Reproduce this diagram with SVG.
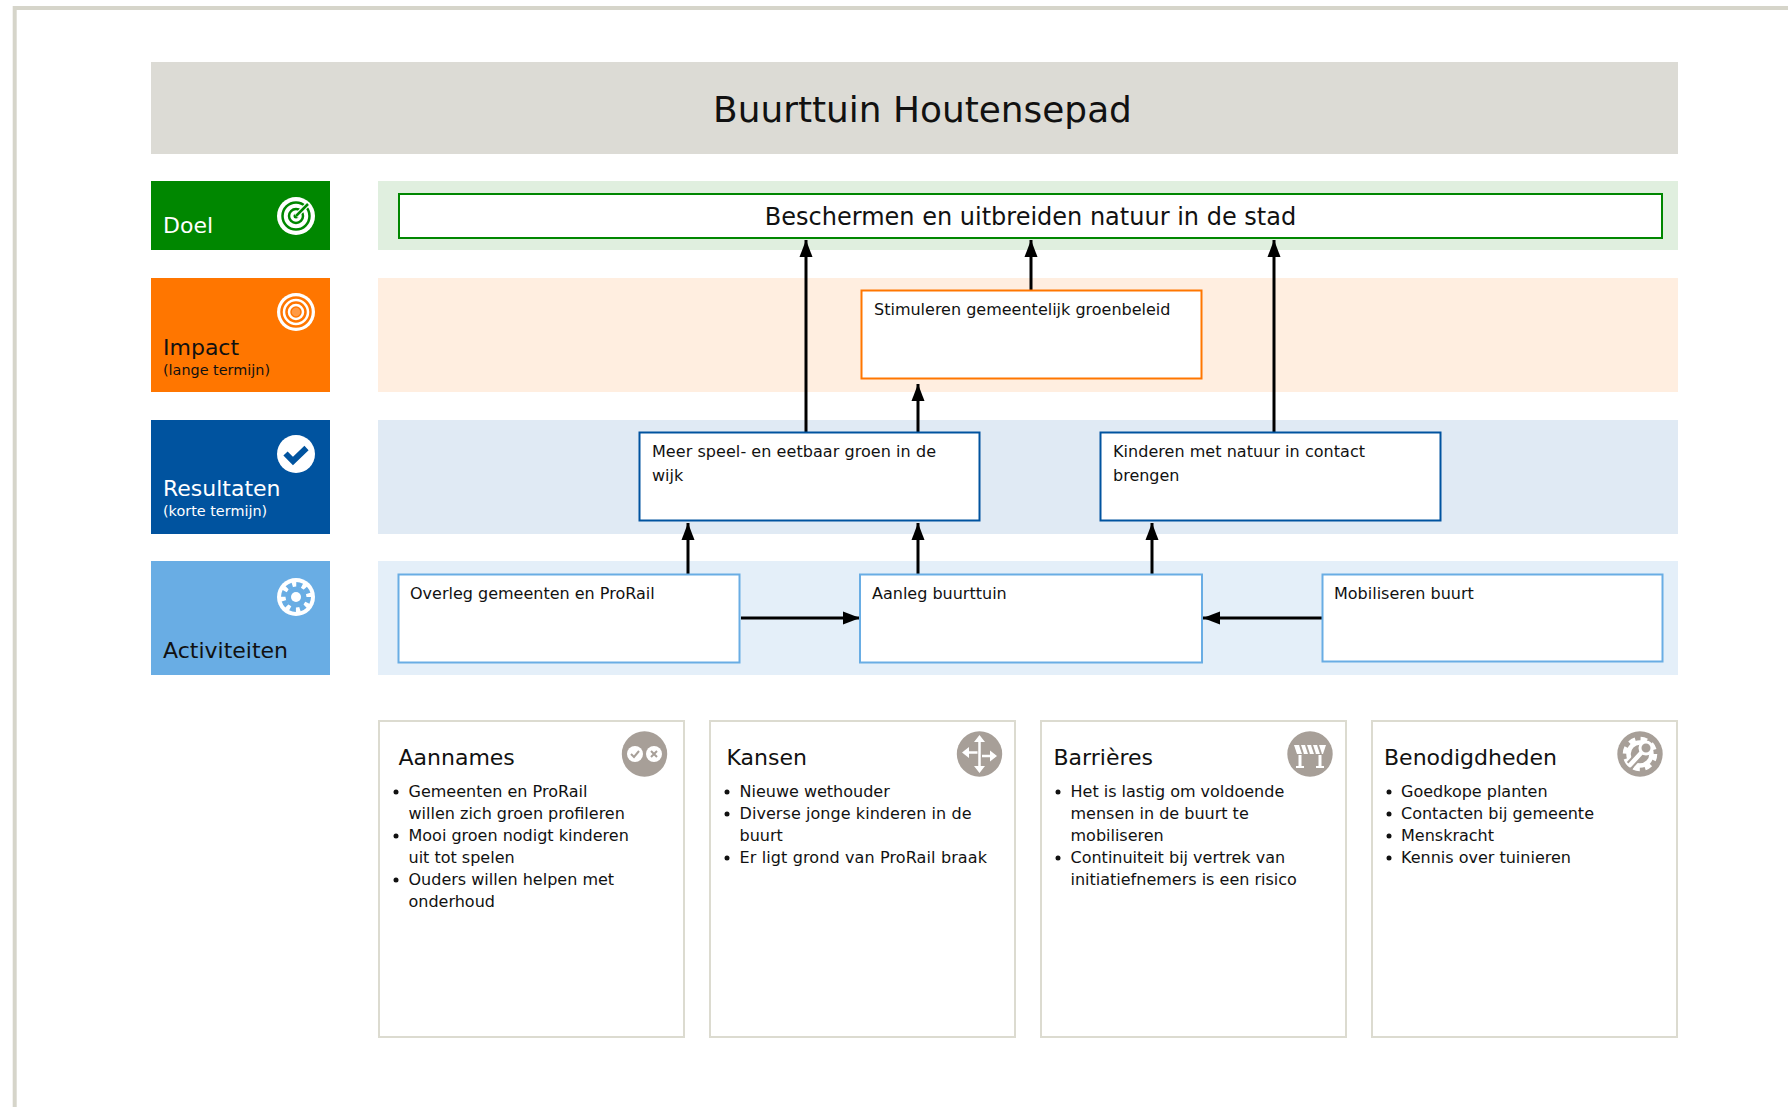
<svg xmlns="http://www.w3.org/2000/svg" width="1788" height="1107" viewBox="0 0 1788 1107">
<style>
text{font-family:"DejaVu Sans","Liberation Sans",sans-serif;fill:#111}
.hd{font-size:22px}.sub{font-size:14.4px}.bx{font-size:16px}.cd{font-size:22px}.li{font-size:16px}
.w{fill:#fff}.box{fill:#fff;stroke-width:2px}.card{fill:#fff;stroke:#dcdbd0;stroke-width:2px}
.arr{fill:none;stroke:#000;stroke-width:3px;marker-end:url(#ah)}
</style>
<defs><marker id="ah" markerUnits="userSpaceOnUse" markerWidth="18" markerHeight="14" refX="17" refY="7" orient="auto"><path d="M0 0.500L17 7L0 13.500Z" fill="#000"/></marker></defs>
<rect width="1788" height="1107" fill="#fff"/>
<path d="M14.7 1107V8H1788" fill="none" stroke="#d6d5ca" stroke-width="4"/>
<g id="title"><rect x="151" y="62" width="1527" height="92" fill="#dcdbd5"/><text x="922.500" y="122" text-anchor="middle" style="font-size:35.900px">Buurttuin Houtensepad</text></g>
<g id="bands"><rect x="378" y="181" width="1300" height="69" fill="#e0efdf"/><rect x="378" y="278" width="1300" height="114" fill="#ffeee0"/><rect x="378" y="420" width="1300" height="114" fill="#e0eaf4"/><rect x="378" y="561" width="1300" height="114" fill="#e4eff9"/></g>
<g id="lab-doel"><rect x="151" y="181" width="179" height="69" fill="#008700"/><text class="hd w" x="163" y="233">Doel</text><circle cx="296" cy="216" r="19" fill="#fff"/><circle cx="296" cy="216" r="13.500" fill="none" stroke="#008700" stroke-width="2.500"/><circle cx="296" cy="216" r="7" fill="none" stroke="#008700" stroke-width="2.500"/><circle cx="296" cy="216" r="2.500" fill="#008700"/><path d="M296 216L308 204" stroke="#fff" stroke-width="5"/><path d="M296 216L308 204" stroke="#008700" stroke-width="2.500"/></g>
<g id="lab-impact"><rect x="151" y="278" width="179" height="114" fill="#ff7600"/><text class="hd" x="163" y="354.500">Impact</text><text class="sub" x="163" y="375">(lange termijn)</text><circle cx="296" cy="312" r="19" fill="#fff"/><circle cx="296" cy="312" r="14.500" fill="none" stroke="#ff7600" stroke-width="2.500"/><circle cx="296" cy="312" r="9.500" fill="none" stroke="#ff7600" stroke-width="2.500"/><circle cx="296" cy="312" r="5" fill="#ff9a45" stroke="#ff7600" stroke-width="1.500"/></g>
<g id="lab-res"><rect x="151" y="420" width="179" height="114" fill="#00539f"/><text class="hd w" x="163" y="496">Resultaten</text><text class="sub w" x="163" y="516">(korte termijn)</text><circle cx="296" cy="454" r="19" fill="#fff"/><path d="M285.500 453.500L293 461L306.500 448" fill="none" stroke="#00539f" stroke-width="6"/></g>
<g id="lab-act"><rect x="151" y="561" width="179" height="114" fill="#69ade4"/><text class="hd" x="163" y="658">Activiteiten</text><circle cx="296" cy="597" r="19" fill="#fff"/><circle cx="296" cy="597" r="10.500" fill="#69ade4"/><circle cx="296" cy="597" r="12.500" fill="none" stroke="#69ade4" stroke-width="5" stroke-dasharray="5.800 4"/><circle cx="296" cy="597" r="5" fill="#fff"/></g>
<g id="connectors">
<path class="arr" d="M806 432V240"/><path class="arr" d="M1031 290V240"/><path class="arr" d="M1274 432V240"/><path class="arr" d="M918 432V384"/>
<path class="arr" d="M688 574V523"/><path class="arr" d="M918 574V523"/><path class="arr" d="M1152 574V523"/>
<path class="arr" d="M741 618H860"/><path class="arr" d="M1322 618H1203"/>
</g>
<g id="n-doel"><rect class="box" x="399" y="194" width="1263" height="44" stroke="#008700"/><text x="1030.500" y="225" text-anchor="middle" style="font-size:24px">Beschermen en uitbreiden natuur in de stad</text></g>
<g id="n-stim"><rect class="box" x="861.500" y="290.500" width="340" height="88" stroke="#ff7600"/><text class="bx" x="874" y="315">Stimuleren gemeentelijk groenbeleid</text></g>
<g id="n-meer"><rect class="box" x="639.500" y="432.500" width="340" height="88" stroke="#00539f"/><text class="bx" x="652" y="457" textLength="284">Meer speel- en eetbaar groen in de</text><text class="bx" x="652" y="481">wijk</text></g>
<g id="n-kind"><rect class="box" x="1100.500" y="432.500" width="340" height="88" stroke="#00539f"/><text class="bx" x="1113" y="457" textLength="252">Kinderen met natuur in contact</text><text class="bx" x="1113" y="481">brengen</text></g>
<g id="n-over"><rect class="box" x="398.500" y="574.500" width="341" height="88" stroke="#69ade4"/><text class="bx" x="410" y="599">Overleg gemeenten en ProRail</text></g>
<g id="n-aanleg"><rect class="box" x="860" y="574.500" width="342" height="88" stroke="#69ade4"/><text class="bx" x="872" y="599">Aanleg buurttuin</text></g>
<g id="n-mob"><rect class="box" x="1322.500" y="574.500" width="340" height="87" stroke="#69ade4"/><text class="bx" x="1334" y="599">Mobiliseren buurt</text></g>
<g id="c-aan"><rect class="card" x="379" y="721" width="305" height="316"/><text class="cd" x="398.500" y="764.500">Aannames</text>
<circle cx="644.500" cy="754" r="22.700" fill="#a79f98"/><circle cx="635" cy="754" r="8" fill="#fff"/><circle cx="654" cy="754" r="8" fill="#fff"/><path d="M631 754L634 757L639 751" fill="none" stroke="#a79f98" stroke-width="2"/><path d="M651 751L657 757M657 751L651 757" stroke="#a79f98" stroke-width="2"/>
<circle cx="396" cy="792" r="2.500" fill="#111"/><text class="li" x="408.500" y="797">Gemeenten en ProRail</text><text class="li" x="408.500" y="819">willen zich groen profileren</text><circle cx="396" cy="836" r="2.500" fill="#111"/><text class="li" x="408.500" y="841">Mooi groen nodigt kinderen</text><text class="li" x="408.500" y="863">uit tot spelen</text><circle cx="396" cy="880" r="2.500" fill="#111"/><text class="li" x="408.500" y="885">Ouders willen helpen met</text><text class="li" x="408.500" y="907">onderhoud</text></g>
<g id="c-kans"><rect class="card" x="710" y="721" width="305" height="316"/><text class="cd" x="726.500" y="764.500">Kansen</text>
<circle cx="979.500" cy="754" r="22.700" fill="#a79f98"/><path d="M979.500 739V769M964 752.500H977.500M982 756H995" stroke="#fff" stroke-width="2.500"/><path d="M979.500 735L985 742H974ZM979.500 773L985 766H974ZM962 752.500L969 747V758ZM997 756L990 750.500V761.500Z" fill="#fff"/>
<circle cx="727" cy="792" r="2.500" fill="#111"/><text class="li" x="739.500" y="797">Nieuwe wethouder</text><circle cx="727" cy="814" r="2.500" fill="#111"/><text class="li" x="739.500" y="819" textLength="232">Diverse jonge kinderen in de</text><text class="li" x="739.500" y="841">buurt</text><circle cx="727" cy="858" r="2.500" fill="#111"/><text class="li" x="739.500" y="863" textLength="247.500">Er ligt grond van ProRail braak</text></g>
<g id="c-barr"><rect class="card" x="1041" y="721" width="305" height="316"/><text class="cd" x="1053.500" y="764.500">Barrières</text>
<circle cx="1310" cy="754" r="22.700" fill="#a79f98"/><path d="M1294 745H1326L1323 754H1297Z" fill="#fff"/><path d="M1300 745l3 9M1306 745l3 9M1312 745l3 9M1318 745l3 9" stroke="#a79f98" stroke-width="2"/><path d="M1300 755V766M1320 755V766" stroke="#fff" stroke-width="3"/><path d="M1296 767H1304M1316 767H1324" stroke="#fff" stroke-width="2"/>
<circle cx="1058" cy="792" r="2.500" fill="#111"/><text class="li" x="1070.500" y="797">Het is lastig om voldoende</text><text class="li" x="1070.500" y="819">mensen in de buurt te</text><text class="li" x="1070.500" y="841">mobiliseren</text><circle cx="1058" cy="858" r="2.500" fill="#111"/><text class="li" x="1070.500" y="863">Continuiteit bij vertrek van</text><text class="li" x="1070.500" y="885">initiatiefnemers is een risico</text></g>
<g id="c-ben"><rect class="card" x="1372" y="721" width="305" height="316"/><text class="cd" x="1384" y="764.500">Benodigdheden</text>
<circle cx="1640" cy="754" r="22.700" fill="#a79f98"/><circle cx="1640" cy="754" r="11.500" fill="none" stroke="#fff" stroke-width="4.500"/><circle cx="1640" cy="754" r="15" fill="none" stroke="#fff" stroke-width="4.500" stroke-dasharray="6.500 5.300"/><path d="M1630 765L1643 751" stroke="#a79f98" stroke-width="8.500"/><path d="M1630 765L1642 752" stroke="#fff" stroke-width="4.500" stroke-linecap="round"/><circle cx="1646" cy="748" r="6" fill="#a79f98" stroke="#fff" stroke-width="3"/>
<circle cx="1389" cy="792" r="2.500" fill="#111"/><text class="li" x="1401" y="797">Goedkope planten</text><circle cx="1389" cy="814" r="2.500" fill="#111"/><text class="li" x="1401" y="819">Contacten bij gemeente</text><circle cx="1389" cy="836" r="2.500" fill="#111"/><text class="li" x="1401" y="841">Menskracht</text><circle cx="1389" cy="858" r="2.500" fill="#111"/><text class="li" x="1401" y="863">Kennis over tuinieren</text></g>
</svg>
